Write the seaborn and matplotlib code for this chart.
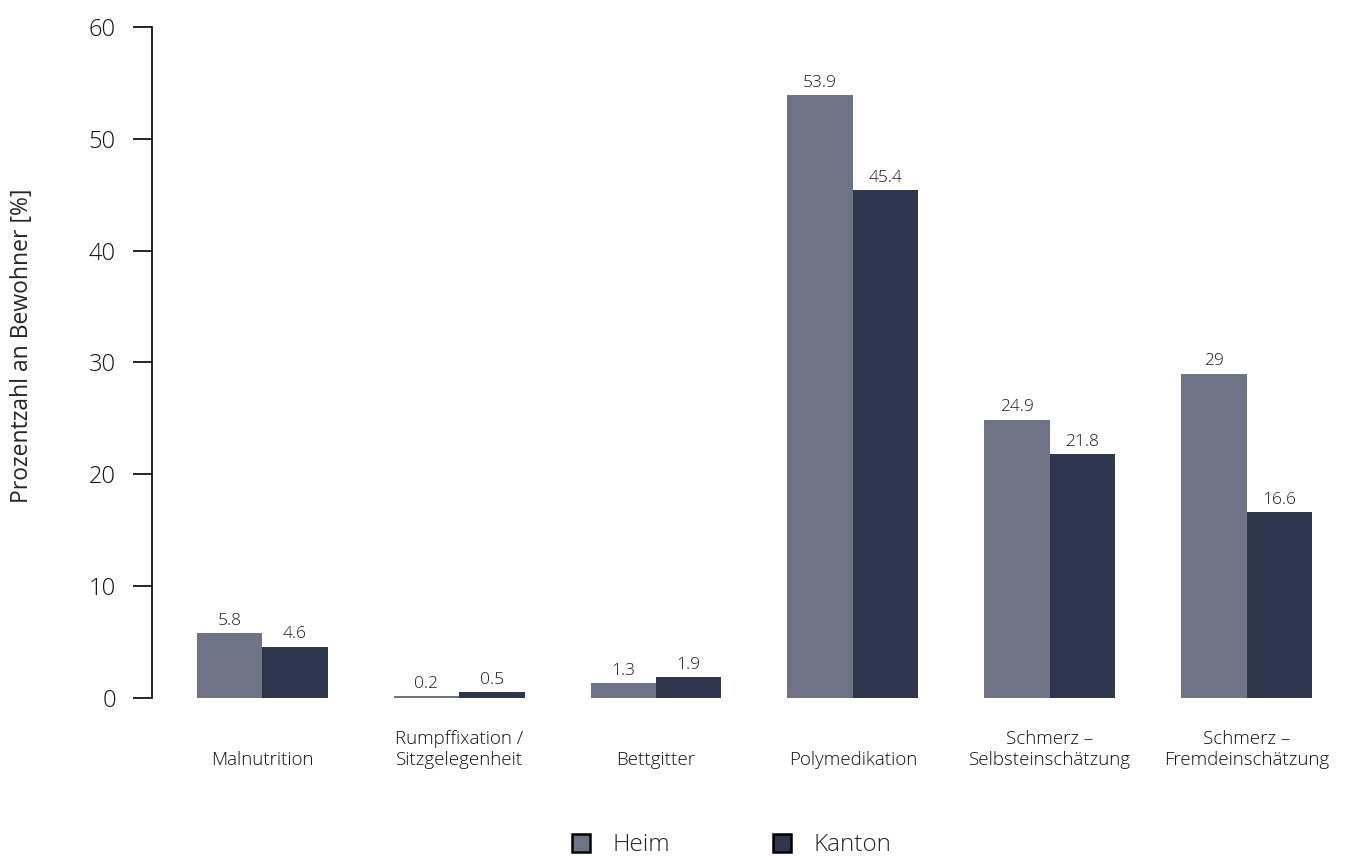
import numpy as np
import pandas as pd
import matplotlib
matplotlib.use('Agg')
import matplotlib.pyplot as plt
import seaborn as sns
from matplotlib.lines import Line2D

# chart values
categories = ['Malnutrition', 'Rumpffixation /\nSitzgelegenheit', 'Bettgitter',
              'Polymedikation', 'Schmerz –\nSelbsteinschätzung', 'Schmerz –\nFremdeinschätzung']
heim = [5.8, 0.2, 1.3, 53.9, 24.9, 29]
kanton = [4.6, 0.5, 1.9, 45.4, 21.8, 16.6]
series = ['Heim', 'Kanton']
colors = ['#6e7385', '#2e374d']
y_ticks = [0, 10, 20, 30, 40, 50, 60]

sns.set_style('white')
plt.rcParams['font.family'] = ['Open Sans', 'DejaVu Sans']
plt.rcParams['font.weight'] = 'light'

df = pd.DataFrame({
    'Kategorie': categories * 2,
    'Wert': heim + kanton,
    'Gruppe': ['Heim'] * len(categories) + ['Kanton'] * len(categories),
})

fig = plt.figure(figsize=(13.45, 8.56), dpi=100)
ax = fig.add_axes([0.113, 0.1846, 0.887, 0.7839])

sns.barplot(data=df, x='Kategorie', y='Wert', hue='Gruppe', hue_order=series,
            palette=colors, width=0.665, saturation=1, linewidth=0,
            ax=ax, legend=False)

for container in ax.containers:
    vals = container.datavalues
    ax.bar_label(container, labels=[f'{v:g}' for v in vals], padding=3,
                 fontsize=12.5, color='#1a1a1a')

ax.set_ylim(0, 60)
ax.set_xlim(-0.56, 5.5)
ax.set_yticks(y_ticks)
ax.set_xlabel('')
ax.set_ylabel('Prozentzahl an Bewohner [%]', fontsize=16.5)
ax.yaxis.set_label_coords(-0.099, 0.525)

for side in ['top', 'right', 'bottom']:
    ax.spines[side].set_visible(False)
ax.spines['left'].set_color('black')
ax.spines['left'].set_linewidth(1.2)

ax.tick_params(axis='y', which='major', length=14, width=1.2, color='black',
               labelsize=17, pad=12, left=True, labelcolor='#111111')
ax.tick_params(axis='x', length=0, labelsize=13.5, pad=51, labelcolor='#111111')
for lbl in ax.get_xticklabels():
    lbl.set_verticalalignment('bottom')

handles = [Line2D([0], [0], marker='s', linestyle='', markersize=13,
                  markerfacecolor=c, markeredgecolor='black', markeredgewidth=1.8)
           for c in colors]
fig.legend(handles, series, loc='lower center', bbox_to_anchor=(0.538, -0.027),
           ncol=2, frameon=False, fontsize=17.5, columnspacing=3.6, handletextpad=0.3)

fig.savefig('out.png', dpi=100)
